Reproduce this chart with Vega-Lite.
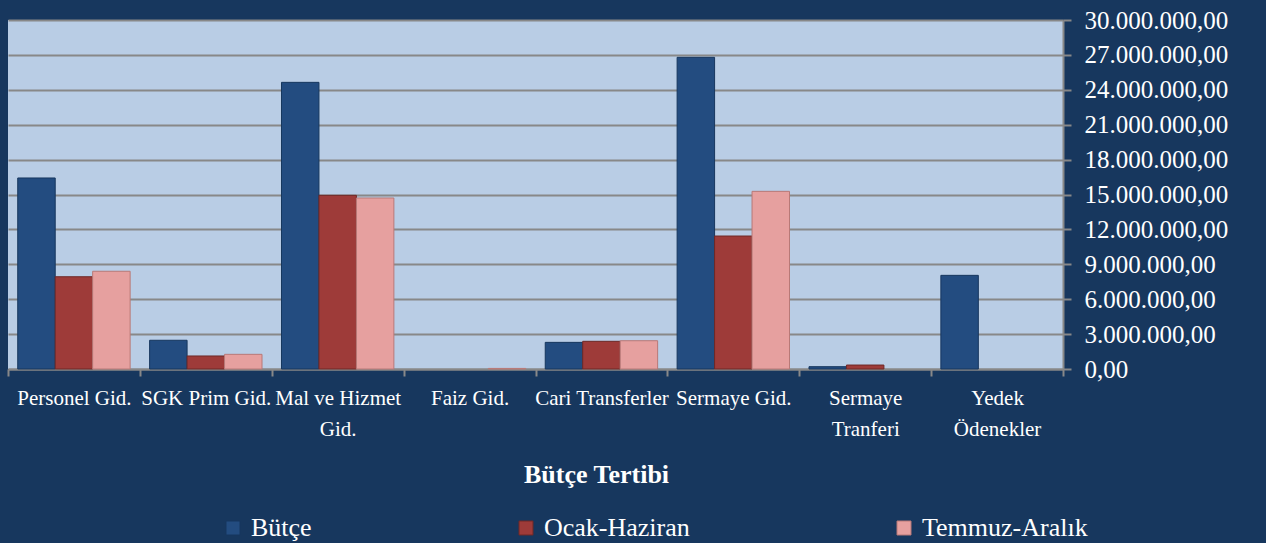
{
  "$schema": "https://vega.github.io/schema/vega-lite/v6.json",
  "autosize": {"type": "none"},
  "width": 1055,
  "height": 349,
  "padding": {"left": 8, "top": 20, "right": 203, "bottom": 174},
  "background": "#17375E",
  "config": {
    "view": {"stroke": null, "fill": "#B9CDE5"},
    "locale": {"number": {"decimal": ",", "thousands": ".", "grouping": [3], "currency": ["", ""]}},
    "font": "Liberation Serif"
  },
  "data": {
    "values": [
      {"kalem": "Personel Gid.", "seri": "Bütçe", "tutar": 16420000},
      {"kalem": "Personel Gid.", "seri": "Ocak-Haziran", "tutar": 7930000},
      {"kalem": "Personel Gid.", "seri": "Temmuz-Aralık", "tutar": 8400000},
      {"kalem": "SGK Prim Gid.", "seri": "Bütçe", "tutar": 2470000},
      {"kalem": "SGK Prim Gid.", "seri": "Ocak-Haziran", "tutar": 1120000},
      {"kalem": "SGK Prim Gid.", "seri": "Temmuz-Aralık", "tutar": 1260000},
      {"kalem": "Mal ve Hizmet Gid.", "seri": "Bütçe", "tutar": 24640000},
      {"kalem": "Mal ve Hizmet Gid.", "seri": "Ocak-Haziran", "tutar": 14930000},
      {"kalem": "Mal ve Hizmet Gid.", "seri": "Temmuz-Aralık", "tutar": 14700000},
      {"kalem": "Faiz Gid.", "seri": "Bütçe", "tutar": 0},
      {"kalem": "Faiz Gid.", "seri": "Ocak-Haziran", "tutar": 0},
      {"kalem": "Faiz Gid.", "seri": "Temmuz-Aralık", "tutar": 50000},
      {"kalem": "Cari Transferler", "seri": "Bütçe", "tutar": 2290000},
      {"kalem": "Cari Transferler", "seri": "Ocak-Haziran", "tutar": 2380000},
      {"kalem": "Cari Transferler", "seri": "Temmuz-Aralık", "tutar": 2430000},
      {"kalem": "Sermaye Gid.", "seri": "Bütçe", "tutar": 26790000},
      {"kalem": "Sermaye Gid.", "seri": "Ocak-Haziran", "tutar": 11430000},
      {"kalem": "Sermaye Gid.", "seri": "Temmuz-Aralık", "tutar": 15270000},
      {"kalem": "Sermaye Tranferi", "seri": "Bütçe", "tutar": 200000},
      {"kalem": "Sermaye Tranferi", "seri": "Ocak-Haziran", "tutar": 340000},
      {"kalem": "Sermaye Tranferi", "seri": "Temmuz-Aralık", "tutar": 0},
      {"kalem": "Yedek Ödenekler", "seri": "Bütçe", "tutar": 8050000},
      {"kalem": "Yedek Ödenekler", "seri": "Ocak-Haziran", "tutar": 0},
      {"kalem": "Yedek Ödenekler", "seri": "Temmuz-Aralık", "tutar": 0}
    ]
  },
  "mark": {"type": "bar", "strokeWidth": 1},
  "encoding": {
    "x": {
      "field": "kalem",
      "type": "nominal",
      "sort": ["Personel Gid.", "SGK Prim Gid.", "Mal ve Hizmet Gid.", "Faiz Gid.", "Cari Transferler", "Sermaye Gid.", "Sermaye Tranferi", "Yedek Ödenekler"],
      "scale": {"paddingInner": 0, "paddingOuter": 0},
      "axis": {
        "orient": "bottom",
        "title": "Bütçe Tertibi",
        "titleFont": "Liberation Serif",
        "titleFontSize": 26,
        "titleFontWeight": "bold",
        "titleColor": "#FFFFFF",
        "titleX": 588,
        "titleY": 113,
        "titleAlign": "center",
        "titleBaseline": "alphabetic",
        "labelAngle": 0,
        "labelFont": "Liberation Serif",
        "labelFontSize": 21,
        "labelColor": "#FFFFFF",
        "labelPadding": 11,
        "labelLineHeight": 31,
        "labelBaseline": "top",
        "labelExpr": "datum.label == 'Mal ve Hizmet Gid.' ? ['Mal ve Hizmet', 'Gid.'] : datum.label == 'Sermaye Tranferi' ? ['Sermaye', 'Tranferi'] : datum.label == 'Yedek Ödenekler' ? ['Yedek', 'Ödenekler'] : datum.label",
        "tickBand": "extent",
        "tickColor": "#888888",
        "tickSize": 7,
        "tickWidth": 2,
        "domainColor": "#888888",
        "domainWidth": 2,
        "grid": false
      }
    },
    "xOffset": {"field": "seri", "type": "nominal", "sort": ["Bütçe", "Ocak-Haziran", "Temmuz-Aralık"], "scale": {"domain": ["Bütçe", "Ocak-Haziran", "Temmuz-Aralık"], "paddingInner": 0, "paddingOuter": 0.26}},
    "y": {
      "field": "tutar",
      "type": "quantitative",
      "scale": {"domain": [0, 30000000]},
      "axis": {
        "orient": "right",
        "title": null,
        "values": [0, 3000000, 6000000, 9000000, 12000000, 15000000, 18000000, 21000000, 24000000, 27000000, 30000000],
        "format": ",.2f",
        "labelFont": "Liberation Serif",
        "labelFontSize": 25,
        "labelColor": "#FFFFFF",
        "labelPadding": 13,
        "tickColor": "#888888",
        "tickSize": 8,
        "tickWidth": 2,
        "domainColor": "#888888",
        "domainWidth": 2,
        "grid": true,
        "gridColor": "#888888",
        "gridWidth": 2
      }
    },
    "color": {
      "field": "seri",
      "type": "nominal",
      "sort": ["Bütçe", "Ocak-Haziran", "Temmuz-Aralık"],
      "scale": {"domain": ["Bütçe", "Ocak-Haziran", "Temmuz-Aralık"], "range": ["#234C80", "#9E3B39", "#E6A09F"]},
      "legend": {
        "title": null,
        "orient": "none",
        "direction": "horizontal",
        "columns": 3,
        "legendX": 212,
        "legendY": 495,
        "padding": 0,
        "symbolType": "square",
        "symbolSize": 196,
        "symbolStrokeWidth": 1,
        "symbolStrokeColor": "#333333",
        "labelFont": "Liberation Serif",
        "labelFontSize": 26,
        "labelColor": "#FFFFFF",
        "labelOffset": 5,
        "labelLimit": 400,
        "columnPadding": 201
      }
    },
    "stroke": {
      "field": "seri",
      "type": "nominal",
      "scale": {"domain": ["Bütçe", "Ocak-Haziran", "Temmuz-Aralık"], "range": ["#17375E", "#6E2927", "#B87977"]},
      "legend": null
    },
    "strokeOpacity": {
      "condition": {"test": "datum.tutar <= 0", "value": 0},
      "value": 1
    }
  }
}
